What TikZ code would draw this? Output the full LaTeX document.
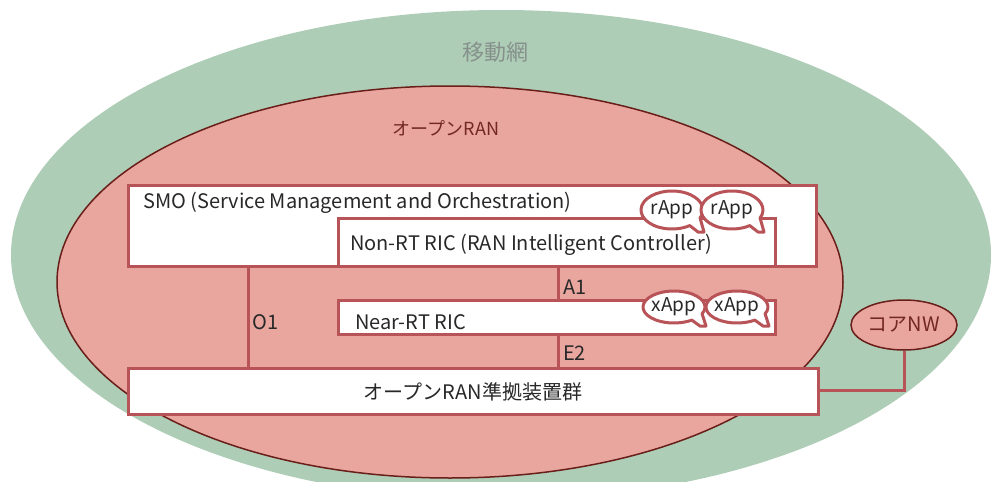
\documentclass[tikz,border=0pt]{standalone}
\usepackage{fontspec}
\setmainfont{Noto Sans CJK JP}
\usetikzlibrary{shapes.geometric}
\definecolor{mgreen}{RGB}{174,205,182}
\definecolor{mpink}{RGB}{233,166,158}
\definecolor{mdark}{RGB}{105,30,25}
\definecolor{mbox}{RGB}{184,84,88}
\definecolor{mtext}{RGB}{40,40,40}
\definecolor{mgray}{RGB}{135,145,140}
\definecolor{mlab}{RGB}{115,40,35}
\newcommand{\appbubble}[5]{% name, cx, cy, ry, text
  \path[draw=mbox, line width=3pt, fill=white, line join=round]
    (#2+31*cos 25, #3+#4*sin 25)
    arc[start angle=25, end angle=-305, x radius=31, y radius=#4]
    -- (#2+26, #3+#4+3) -- (#2+32, #3+#4+3) -- cycle;
  \node[bubtxt] (#1) at (#2,#3) {#5};
}
\tikzset{
  boxline/.style={draw=mbox, line width=3pt, fill=white},
  conn/.style={draw=mbox, line width=3pt},
  txt/.style={text=mtext, font=\fontsize{20}{22}\selectfont, inner sep=0pt},
  bubtxt/.style={text=mtext, font=\fontsize{19}{21}\selectfont, inner sep=0pt},
  iflabel/.style={text=mtext, font=\fontsize{20}{22}\selectfont, inner sep=0pt, anchor=west}
}
\begin{document}
\begin{tikzpicture}[x=1pt,y=-1pt]
\useasboundingbox (0,0) rectangle (994,482);
\begin{scope}
\clip (0,0) rectangle (994,482);
\fill[mgreen] (501,255) ellipse [x radius=490, y radius=245];
\draw[fill=mpink, draw=mdark, line width=1.5pt] (450,282) ellipse [x radius=393, y radius=196];
\end{scope}
\node[text=mgray, font=\fontsize{22}{24}\selectfont, inner sep=0pt] (mobile) at (495,52) {移動網};
\node[text=mlab, font=\fontsize{18}{20}\selectfont, inner sep=0pt] (oran) at (446,128) {オープンRAN};
% connectors
\coordinate (o1top) at (248,266);
\coordinate (o1bot) at (248,368);
\coordinate (a1top) at (558,266);
\coordinate (a1bot) at (558,300);
\coordinate (e2top) at (558,334);
\coordinate (e2bot) at (558,368);
\draw[conn] (o1top) -- (o1bot);
\draw[conn] (a1top) -- (a1bot);
\draw[conn] (e2top) -- (e2bot);
% SMO
\path[boxline] (128,185) rectangle (816,266);
\node[txt, anchor=west] (smo) at (143,203) {SMO (Service Management and Orchestration)};
\path[boxline] (338,218) rectangle (775,266);
\node[txt, anchor=west] (nonrt) at (350,245) {Non-RT RIC (RAN Intelligent Controller)};
\appbubble{r1}{672}{210}{19}{rApp}
\appbubble{r2}{732}{210}{19}{rApp}
% Near-RT
\path[boxline] (338,300) rectangle (775,334);
\node[txt, anchor=west] (nearrt) at (355,322) {Near-RT RIC};
\appbubble{x1}{674}{307}{16}{xApp}
\appbubble{x2}{737}{307}{16}{xApp}
% labels
\node[iflabel] (lo1) at (252,322) {O1};
\node[iflabel] (la1) at (563,287) {A1};
\node[iflabel] (le2) at (563,353) {E2};
% bottom box
\path[boxline] (128,368) rectangle (818,414);
\node[txt] (dev) at (473,392) {オープンRAN準拠装置群};
% core
\node[ellipse, draw=mdark, line width=1.5pt, fill=mpink, minimum width=106pt, minimum height=50pt, inner sep=0pt, text=mlab, font=\fontsize{20}{22}\selectfont] (core) at (904,325) {コアNW};
\coordinate (corner) at (904,390);
\coordinate (devr) at (818,390);
\draw[conn] (core.south) -- (corner) -- (devr);
\end{tikzpicture}
\end{document}
